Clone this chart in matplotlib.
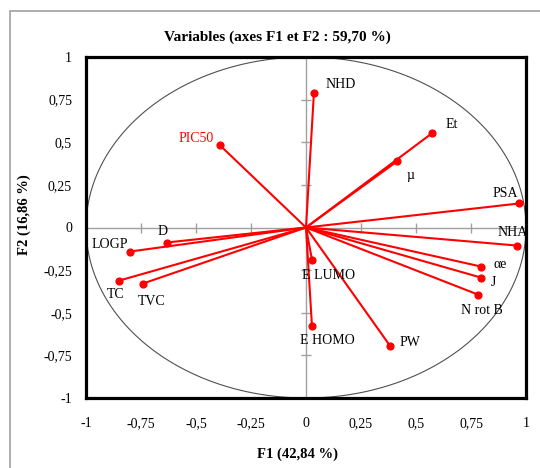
import numpy as np
import matplotlib
matplotlib.use("Agg")
import matplotlib.pyplot as plt
from matplotlib.patches import Rectangle

plt.rcParams['font.family'] = ['Liberation Serif', 'DejaVu Serif']

variables = ["NHD", "Et", "µ", "PIC50", "PSA", "NHA", "αe", "J", "N rot B",
             "E LUMO", "E HOMO", "PW", "D", "LOGP", "TC", "TVC"]
f1 = [0.036, 0.573, 0.414, -0.391, 0.969, 0.960, 0.796, 0.796, 0.783,
      0.027, 0.027, 0.382, -0.633, -0.800, -0.851, -0.742]
f2 = [0.790, 0.553, 0.388, 0.482, 0.141, -0.106, -0.229, -0.294, -0.394,
      -0.188, -0.576, -0.694, -0.088, -0.141, -0.312, -0.329]
label_offsets = [(27, 8), (20, 9), (13, -14), (-24, 7), (-14, 10), (-5, 13),
                 (19, 2), (12, -5), (4, -16), (17, -16), (15, -15), (20, 3),
                 (-4, 11), (-20, 7), (-3, -14), (9, -18)]
label_colors = ["black"] * len(variables)
label_colors[3] = "red"

ticks = [-1, -0.75, -0.5, -0.25, 0, 0.25, 0.5, 0.75, 1]
tick_labels = ["-1", "-0,75", "-0,5", "-0,25", "0", "0,25", "0,5", "0,75", "1"]

fig = plt.figure(figsize=(5.4, 4.68), dpi=100)
fig.patches.append(Rectangle((10 / 540, -0.1), 1.2, 1 - 11 / 468 + 0.1,
                             transform=fig.transFigure, fill=False,
                             edgecolor="#a0a0a0", linewidth=1.2))

ax = fig.add_axes([86 / 540, 1 - 398 / 468, 440 / 540, 341 / 468])
ax.set_xlim(-1, 1)
ax.set_ylim(-1, 1)
for s in ax.spines.values():
    s.set_linewidth(2.3)
    s.set_color("black")

ax.axhline(0, color="#a0a0a0", lw=1, zorder=1)
ax.axvline(0, color="#a0a0a0", lw=1, zorder=1)
inner = [t for t in ticks if -1 < t < 1]
ax.plot(inner, [0] * len(inner), linestyle="none", marker="|", ms=7,
        color="#a0a0a0", mew=1, zorder=1)
ax.plot([0] * len(inner), inner, linestyle="none", marker="_", ms=7,
        color="#a0a0a0", mew=1, zorder=1)

th = np.linspace(0, 2 * np.pi, 400)
ax.plot(np.cos(th), np.sin(th), color="#505050", lw=0.8, zorder=1)

for x, y in zip(f1, f2):
    ax.plot([0, x], [0, y], color="red", lw=1.5, zorder=3)
ax.scatter(f1, f2, s=24, color="red", zorder=4)

for name, x, y, (dx, dy), c in zip(variables, f1, f2, label_offsets, label_colors):
    ax.annotate(name, (x, y), xytext=(dx, dy), textcoords="offset pixels",
                ha="center", va="center", fontsize=10, color=c, zorder=5)

ax.set_xticks(ticks)
ax.set_xticklabels(tick_labels)
ax.set_yticks(ticks)
ax.set_yticklabels(tick_labels)
ax.tick_params(length=0, labelsize=10)
ax.tick_params(axis="x", pad=14)
ax.tick_params(axis="y", pad=10)

ax.set_xlabel("F1 (42,84 %)", fontsize=10.5, fontweight="bold", labelpad=12)
ax.xaxis.set_label_coords(0.48, -0.145)
ax.set_ylabel("F2 (16,86 %)", fontsize=10.5, fontweight="bold")
ax.yaxis.set_label_coords(-0.125, 0.537)
fig.text(277 / 540, 1 - 37 / 468, "Variables (axes F1 et F2 : 59,70 %)",
         fontsize=11, fontweight="bold", ha="center", va="center")

fig.savefig("out.png", dpi=100)
